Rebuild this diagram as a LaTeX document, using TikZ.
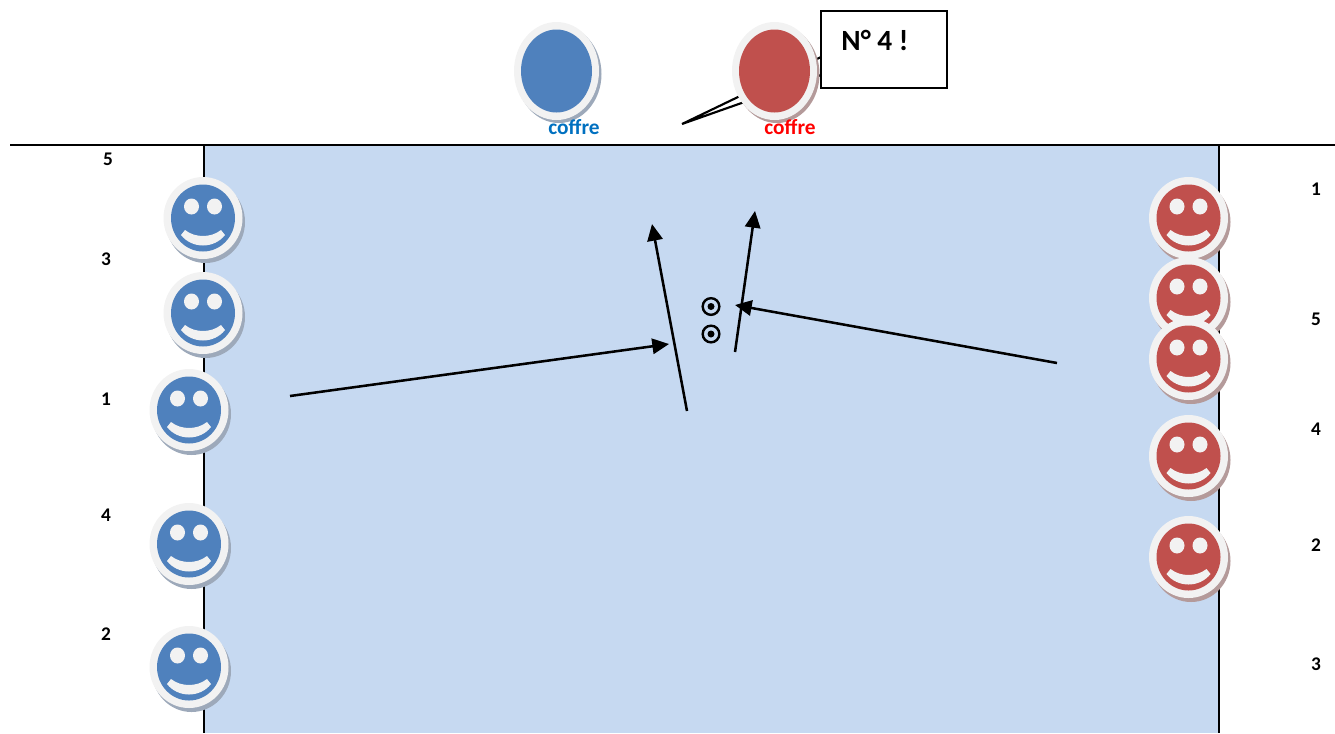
\documentclass[tikz,border=0pt]{standalone}
\usepackage{fontspec}
\setmainfont{Carlito}
\usetikzlibrary{arrows.meta}
\definecolor{bluefill}{HTML}{4F81BD}
\definecolor{redfill}{HTML}{C0504D}
\definecolor{bluesh}{HTML}{9DA9BA}
\definecolor{redsh}{HTML}{B49A9A}
\definecolor{rim}{HTML}{F2F2F2}
\definecolor{field}{HTML}{C6D9F1}
\definecolor{coffreblue}{HTML}{0070C0}
\tikzset{
  line/.style={black,line width=1.9pt},
  flow/.style={line,-{Triangle[length=12.5pt,width=11.5pt]}},
  numlabel/.style={font=\bfseries\fontsize{14.5}{16}\selectfont,inner sep=0pt},
  coffrelabel/.style={font=\bfseries\fontsize{16}{18}\selectfont,inner sep=0pt},
}
\newcommand{\smileyface}[5]{% name x y fill shadow
  \begin{scope}[shift={(#2,#3)}]
    \fill[#5] (2.5,4) ellipse [x radius=39.5,y radius=41];
    \fill[rim] (0,0) ellipse [x radius=39.5,y radius=41];
    \fill[#4] (0,0) ellipse [x radius=32,y radius=33.5];
    \fill[rim] (-11.5,-11.5) ellipse [x radius=7.5,y radius=8];
    \fill[rim] (11.5,-11.5) ellipse [x radius=7.5,y radius=8];
    \fill[rim] (-18,12) .. controls (-8,20) and (8,20) .. (18,12) -- (22,17)
       .. controls (11,31) and (-11,31) .. (-22,17) -- cycle;
  \end{scope}
}
\newcommand{\coffreoval}[4]{% x fill shadow
  \begin{scope}[shift={(#1,71)}]
    \fill[#3] (2.5,3) ellipse [x radius=42.5,y radius=49];
    \fill[rim] (0,0) ellipse [x radius=42.5,y radius=49];
    \fill[#2] (0,0) ellipse [x radius=35.5,y radius=41.5];
  \end{scope}
}
\begin{document}
\begin{tikzpicture}[x=0.75pt,y=-0.75pt]
\useasboundingbox (0,0) rectangle (1335,733);
% field
\fill[field] (204,145) rectangle (1219,733);
\coordinate (ruleL) at (10,145);
\coordinate (ruleR) at (1335,145);
\coordinate (sideLt) at (204,145);
\coordinate (sideLb) at (204,733);
\coordinate (sideRt) at (1219,145);
\coordinate (sideRb) at (1219,733);
\draw[line] (ruleL) -- (ruleR);
\draw[line] (sideLt) -- (sideLb);
\draw[line] (sideRt) -- (sideRb);
% callout tail (behind the red oval)
\coordinate (tailTip) at (682,124);
\coordinate (tailA) at (821,57);
\coordinate (tailB) at (821,75);
\draw[black,line width=1.6pt,line join=miter] (tailA) -- (tailTip) -- (tailB);
% coffres
\coffreoval{556.5}{bluefill}{bluesh}{}
\coffreoval{774.5}{redfill}{redsh}{}
\node[coffrelabel,text=coffreblue] (coffreB) at (574,127.5) {coffre};
\node[coffrelabel,text=red] (coffreR) at (790,127.5) {coffre};
% callout box
\node[draw=black,line width=1.6pt,fill=white,minimum width=94.5pt,minimum height=58pt,inner sep=0pt] (callout) at (884,49.5) {};
\node[font=\bfseries\fontsize{22}{24}\selectfont,inner sep=0pt] (calloutText) at (875,40) {N° 4 !};
% smileys
\smileyface{b5}{203}{218}{bluefill}{bluesh}
\smileyface{b3}{203}{313}{bluefill}{bluesh}
\smileyface{b1}{189}{410}{bluefill}{bluesh}
\smileyface{b4}{189}{544}{bluefill}{bluesh}
\smileyface{b2}{189}{667}{bluefill}{bluesh}
\smileyface{r1}{1188.5}{218}{redfill}{redsh}
\smileyface{r5a}{1188.5}{298}{redfill}{redsh}
\smileyface{r5b}{1188.5}{359}{redfill}{redsh}
\smileyface{r4}{1188.5}{456}{redfill}{redsh}
\smileyface{r2}{1188.5}{557}{redfill}{redsh}
% numbers
\node[numlabel] (nb5) at (108,159.5) {5};
\node[numlabel] (nb3) at (106,259.5) {3};
\node[numlabel] (nb1) at (106,399.5) {1};
\node[numlabel] (nb4) at (106,515.5) {4};
\node[numlabel] (nb2) at (106,634.5) {2};
\node[numlabel] (nr1) at (1316,189.5) {1};
\node[numlabel] (nr5) at (1316,319.5) {5};
\node[numlabel] (nr4) at (1316,429.5) {4};
\node[numlabel] (nr2) at (1316,545.5) {2};
\node[numlabel] (nr3) at (1316,664.5) {3};
% players
\node[draw=black,line width=1.8pt,circle,minimum size=12.5pt,inner sep=0pt] (p1) at (711,306.5) {};
\node[draw=black,line width=1.8pt,circle,minimum size=12.5pt,inner sep=0pt] (p2) at (711,334) {};
\fill[black] (p1.center) circle (3.5);
\fill[black] (p2.center) circle (3.5);
% arrows
\coordinate (a1s) at (290,396); \coordinate (a1e) at (669,344);
\coordinate (a2s) at (687,411); \coordinate (a2e) at (652,224);
\coordinate (a3s) at (735,352); \coordinate (a3e) at (755,211);
\coordinate (a4s) at (1057,363); \coordinate (a4e) at (735,305);
\draw[flow] (a1s) -- (a1e);
\draw[flow] (a2s) -- (a2e);
\draw[flow] (a3s) -- (a3e);
\draw[flow] (a4s) -- (a4e);
\end{tikzpicture}
\end{document}
